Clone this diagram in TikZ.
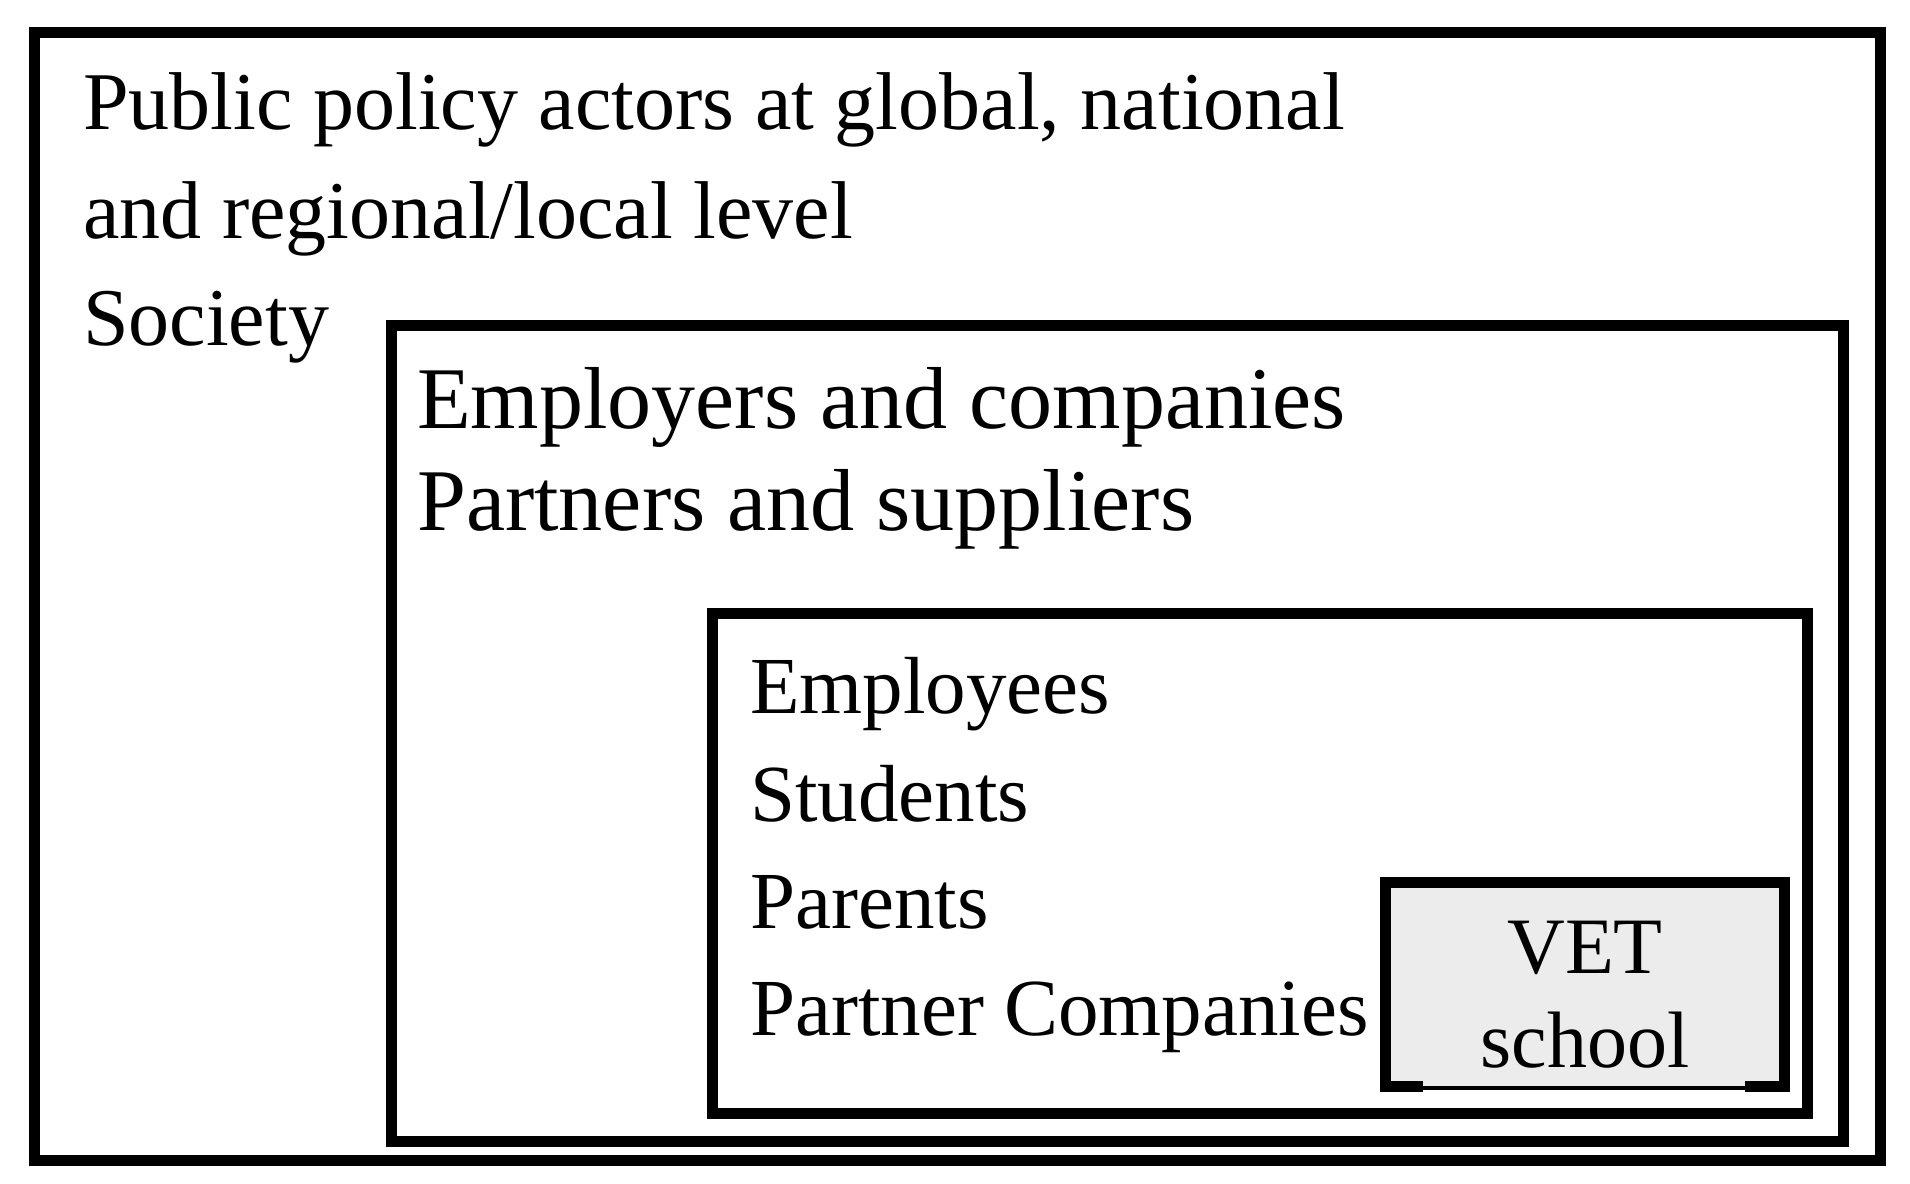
\documentclass[tikz,border=0pt]{standalone}
\usepackage{fontspec}
\setmainfont{Liberation Serif}
\definecolor{vetgray}{RGB}{236,236,236}

\begin{document}
\begin{tikzpicture}[x=1pt, y=-1pt,
    boxline/.style={line width=11pt, line join=miter},
    outertext/.style={anchor=base west, inner sep=0pt, font=\fontsize{82}{98}\selectfont},
    firmtext/.style={anchor=base west, inner sep=0pt, font=\fontsize{88}{104}\selectfont},
    schooltext/.style={anchor=base west, inner sep=0pt, font=\fontsize{81}{97}\selectfont},
    vettext/.style={anchor=base, inner sep=0pt, font=\fontsize{80}{96}\selectfont}]
            \useasboundingbox (0, 0) rectangle (1910, 1183);
            % nested boxes
            \draw[boxline] (34, 32) rectangle (1880, 1160);
            \draw[boxline] (391, 325) rectangle (1843, 1141);
            \draw[boxline] (712, 613) rectangle (1807, 1113);
            \fill[vetgray] (1385, 882) rectangle (1784, 1086);
            \draw[boxline] (1423, 1086) -- (1385, 1086) -- (1385, 882) -- (1784, 882) -- (1784, 1086) -- (1745, 1086);
            \draw[line width=4pt] (1423, 1088) -- (1745, 1088);
            % outer level
            \node[outertext] (policy) at (83, 129) {Public policy actors at global, national};
            \node[outertext] (level) at (83, 238) {and regional/local level};
            \node[outertext] (society) at (83, 345) {Society};
            % companies level
            \node[firmtext] (employers) at (417, 428) {Employers and companies};
            \node[firmtext] (partners) at (417, 530) {Partners and suppliers};
            % school level
            \node[schooltext] (employees) at (750, 713) {Employees};
            \node[schooltext] (students) at (750, 821) {Students};
            \node[schooltext] (parents) at (750, 928) {Parents};
            \node[schooltext] (partnercos) at (750, 1035) {Partner Companies};
            \node[vettext] (vet) at (1585, 973) {VET};
            \node[vettext] (school) at (1585, 1067) {school};
        \end{tikzpicture}
\end{document}
